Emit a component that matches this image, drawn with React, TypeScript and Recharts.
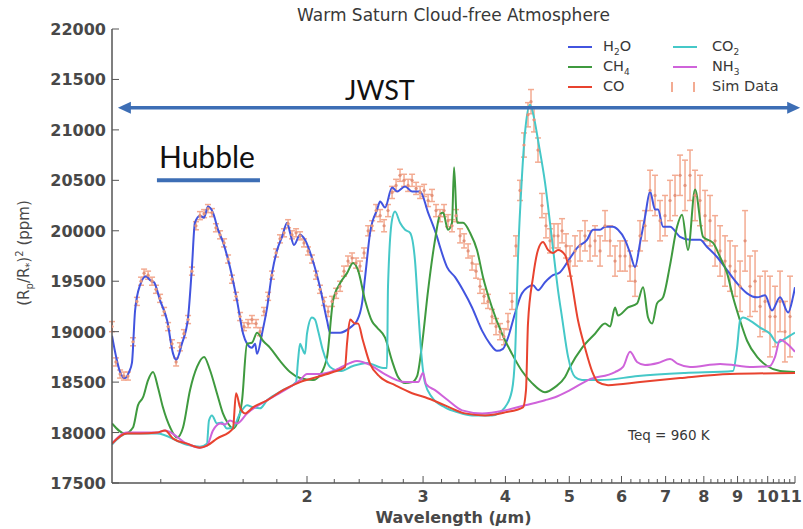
import { ComposedChart, Line, Scatter, ErrorBar, XAxis, YAxis, ReferenceLine } from 'recharts'

// wavelength (µm) / transit depth (ppm) per species
const H2O_WL = [1.012, 1.026, 1.041, 1.059, 1.074, 1.085, 1.097, 1.116, 1.14, 1.156, 1.172, 1.197, 1.227, 1.253, 1.266, 1.292, 1.32, 1.338, 1.352, 1.376, 1.396, 1.415, 1.44, 1.466, 1.491, 1.528, 1.566, 1.6, 1.622, 1.65, 1.668, 1.68, 1.709, 1.74, 1.77, 1.802, 1.833, 1.866, 1.885, 1.911, 1.952, 1.986, 2.035, 2.093, 2.145, 2.168, 2.245, 2.325, 2.382, 2.424, 2.45, 2.493, 2.555, 2.582, 2.627, 2.692, 2.739, 2.817, 2.887, 2.969, 3.053, 3.15, 3.183, 3.262, 3.355, 3.45, 3.56, 3.686, 3.79, 3.884, 3.966, 4.036, 4.136, 4.238, 4.405, 4.482, 4.593, 4.723, 4.841, 4.979, 5.155, 5.319, 5.432, 5.567, 5.665, 5.825, 5.928, 6.075, 6.182, 6.291, 6.402, 6.515, 6.63, 6.746, 6.817, 6.937, 7.109, 7.362, 7.623, 7.894, 8.091, 8.378, 8.676, 8.985, 9.304, 9.635, 9.908, 10.15, 10.44, 10.74, 10.92, 11.0]
const H2O_PPM = [18960, 18760, 18600, 18540, 18600, 18690, 19210, 19460, 19550, 19510, 19490, 19310, 19110, 18780, 18720, 18880, 19140, 19640, 20080, 20150, 20130, 20240, 20180, 20010, 19890, 19640, 19310, 18980, 18880, 18840, 18880, 18780, 18980, 19240, 19580, 19810, 19940, 20080, 19980, 19860, 19960, 19910, 19730, 19440, 19110, 18990, 18990, 19040, 19110, 19280, 19540, 19980, 20210, 20290, 20230, 20430, 20390, 20440, 20390, 20390, 20180, 19940, 19840, 19640, 19540, 19410, 19240, 19010, 18880, 18810, 18830, 18940, 19180, 19380, 19460, 19410, 19490, 19560, 19590, 19700, 19840, 19910, 20010, 20010, 20040, 20040, 20010, 19910, 19780, 19640, 19880, 20140, 20390, 20210, 20210, 20040, 20040, 19940, 19910, 19910, 19840, 19740, 19610, 19480, 19380, 19340, 19360, 19210, 19340, 19190, 19340, 19440]

const CH4_WL = [1.012, 1.059, 1.089, 1.108, 1.128, 1.148, 1.168, 1.188, 1.209, 1.24, 1.27, 1.297, 1.329, 1.362, 1.396, 1.425, 1.46, 1.491, 1.518, 1.544, 1.572, 1.594, 1.622, 1.65, 1.68, 1.715, 1.758, 1.82, 1.885, 1.952, 2.043, 2.093, 2.145, 2.191, 2.245, 2.3, 2.349, 2.39, 2.45, 2.511, 2.555, 2.627, 2.692, 2.749, 2.817, 2.887, 2.938, 2.99, 3.053, 3.128, 3.183, 3.217, 3.273, 3.319, 3.343, 3.378, 3.45, 3.535, 3.622, 3.699, 3.817, 3.952, 4.093, 4.238, 4.39, 4.593, 4.757, 4.926, 5.012, 5.227, 5.47, 5.665, 5.765, 5.866, 5.928, 6.139, 6.335, 6.47, 6.584, 6.677, 6.793, 6.937, 7.109, 7.285, 7.413, 7.57, 7.758, 7.978, 8.262, 8.466, 8.676, 8.86, 9.079, 9.304, 9.635, 9.978, 10.44, 11.0]
const CH4_PPM = [18090, 17990, 18050, 18270, 18350, 18520, 18600, 18450, 18250, 18050, 17950, 18050, 18420, 18650, 18750, 18620, 18390, 18190, 18090, 18040, 18120, 18320, 18880, 18890, 18990, 18910, 18840, 18710, 18600, 18540, 18520, 18570, 18750, 19310, 19480, 19580, 19680, 19610, 19310, 19100, 19040, 18940, 18710, 18550, 18490, 18500, 18560, 18880, 19410, 19910, 20160, 20180, 20010, 20080, 20630, 20080, 20080, 19980, 19810, 19540, 19240, 18980, 18780, 18610, 18490, 18400, 18450, 18550, 18650, 18840, 18980, 19080, 19050, 19240, 19160, 19240, 19280, 19440, 19140, 19080, 19280, 19340, 19660, 20040, 20160, 19810, 20410, 19940, 19880, 19740, 19580, 19340, 19110, 18910, 18750, 18660, 18610, 18600]

const CO_WL = [1.012, 1.066, 1.116, 1.184, 1.218, 1.253, 1.315, 1.376, 1.41, 1.46, 1.544, 1.561, 1.583, 1.611, 1.656, 1.74, 1.839, 1.952, 2.071, 2.191, 2.284, 2.3, 2.325, 2.366, 2.39, 2.432, 2.493, 2.582, 2.72, 2.887, 3.021, 3.239, 3.474, 3.725, 3.994, 4.253, 4.298, 4.328, 4.405, 4.482, 4.561, 4.641, 4.723, 4.807, 4.926, 5.012, 5.155, 5.282, 5.413, 5.528, 5.725, 6.402, 7.362, 8.767, 11.0]
const CO_PPM = [17890, 17990, 17990, 18000, 18020, 17940, 17890, 17850, 17870, 17940, 18040, 18390, 18250, 18190, 18250, 18320, 18420, 18500, 18550, 18600, 18650, 18880, 19120, 19080, 19080, 18910, 18680, 18550, 18470, 18390, 18350, 18270, 18190, 18170, 18200, 18250, 18420, 19080, 19540, 19810, 19890, 19810, 19780, 19810, 19760, 19580, 19110, 18840, 18610, 18500, 18470, 18500, 18540, 18580, 18590]

const CO2_WL = [1.012, 1.066, 1.184, 1.315, 1.376, 1.41, 1.42, 1.435, 1.46, 1.486, 1.512, 1.544, 1.583, 1.622, 1.656, 1.697, 1.74, 1.839, 1.925, 1.938, 1.952, 1.965, 1.986, 2.0, 2.035, 2.057, 2.079, 2.115, 2.168, 2.245, 2.349, 2.467, 2.609, 2.645, 2.654, 2.692, 2.72, 2.768, 2.817, 2.867, 2.917, 2.948, 2.979, 3.021, 3.095, 3.239, 3.39, 3.56, 3.817, 3.994, 4.093, 4.136, 4.18, 4.238, 4.283, 4.358, 4.436, 4.482, 4.593, 4.707, 4.807, 4.875, 4.979, 5.101, 5.227, 5.567, 6.357, 7.491, 8.86, 8.985, 9.079, 9.175, 9.401, 9.736, 10.08, 10.33, 10.62, 11.0]
const CO2_PPM = [17880, 17990, 17990, 17880, 17860, 17890, 18120, 18170, 18090, 18100, 18040, 18050, 18190, 18270, 18250, 18240, 18320, 18420, 18500, 18710, 18880, 18840, 18780, 18980, 19140, 19120, 19010, 18810, 18650, 18610, 18660, 18690, 18640, 18640, 19440, 20110, 20190, 20080, 20010, 19980, 19700, 19240, 18810, 18490, 18350, 18250, 18200, 18170, 18170, 18250, 18420, 18750, 19740, 20540, 20970, 21250, 21070, 20900, 20480, 19910, 19410, 19140, 18750, 18550, 18520, 18520, 18560, 18590, 18610, 18840, 19110, 19140, 19110, 19040, 18980, 18890, 18930, 18990]

const NH3_WL = [1.012, 1.066, 1.184, 1.218, 1.315, 1.376, 1.41, 1.44, 1.476, 1.502, 1.528, 1.566, 1.622, 1.74, 1.952, 2.0, 2.093, 2.191, 2.325, 2.382, 2.493, 2.609, 2.817, 2.948, 2.999, 3.032, 3.128, 3.273, 3.438, 3.686, 3.994, 4.283, 4.593, 4.757, 5.012, 5.338, 5.866, 6.033, 6.182, 6.335, 6.515, 6.817, 7.109, 7.31, 7.623, 8.466, 9.5, 10.08, 10.26, 10.44, 10.7, 11.0]
const NH3_PPM = [17890, 18000, 18000, 18020, 17890, 17850, 17870, 18020, 18090, 18080, 18120, 18090, 18190, 18320, 18520, 18580, 18580, 18610, 18690, 18710, 18670, 18590, 18500, 18500, 18590, 18480, 18420, 18320, 18220, 18190, 18220, 18270, 18320, 18350, 18420, 18520, 18600, 18650, 18800, 18700, 18670, 18690, 18730, 18680, 18650, 18680, 18650, 18660, 18750, 18920, 18880, 18800]

// simulated observation with 1-sigma errors
const SIM_WL = [1.012, 1.026, 1.041, 1.055, 1.07, 1.089, 1.104, 1.12, 1.132, 1.148, 1.164, 1.18, 1.197, 1.214, 1.231, 1.248, 1.266, 1.283, 1.301, 1.32, 1.338, 1.357, 1.376, 1.396, 1.415, 1.435, 1.455, 1.476, 1.497, 1.518, 1.539, 1.561, 1.583, 1.605, 1.628, 1.65, 1.674, 1.697, 1.721, 1.746, 1.77, 1.795, 1.82, 1.846, 1.872, 1.898, 1.925, 1.952, 1.979, 2.007, 2.035, 2.064, 2.093, 2.122, 2.153, 2.183, 2.214, 2.245, 2.276, 2.308, 2.341, 2.374, 2.407, 2.441, 2.476, 2.511, 2.546, 2.582, 2.618, 2.654, 2.692, 2.73, 2.768, 2.807, 2.847, 2.887, 2.928, 2.969, 3.011, 3.053, 3.095, 3.139, 3.183, 3.228, 3.273, 3.319, 3.366, 3.414, 3.462, 3.511, 3.56, 3.61, 3.66, 3.712, 3.764, 3.817, 3.871, 3.925, 3.98, 4.036, 4.093, 4.15, 4.209, 4.268, 4.328, 4.374, 4.42, 4.482, 4.545, 4.609, 4.674, 4.74, 4.807, 4.875, 4.943, 5.012, 5.101, 5.191, 5.282, 5.375, 5.47, 5.567, 5.665, 5.765, 5.866, 5.97, 6.075, 6.182, 6.291, 6.402, 6.515, 6.63, 6.746, 6.865, 6.986, 7.109, 7.234, 7.362, 7.491, 7.623, 7.758, 7.894, 8.034, 8.175, 8.32, 8.466, 8.615, 8.767, 8.922, 9.079, 9.239, 9.401, 9.567, 9.736, 9.908, 10.08, 10.26, 10.44, 10.62, 10.81]
const SIM_PPM = [19050, 18700, 18580, 18560, 18560, 18900, 19300, 19500, 19580, 19560, 19500, 19420, 19330, 19200, 19050, 18880, 18700, 18850, 18980, 19120, 19600, 20050, 20150, 20170, 20220, 20180, 20030, 19960, 19880, 19720, 19520, 19350, 19150, 19050, 19080, 19120, 19080, 19000, 19200, 19350, 19560, 19780, 19920, 19980, 20070, 19960, 19980, 19950, 19880, 19800, 19720, 19560, 19420, 19300, 19200, 19300, 19380, 19450, 19600, 19700, 19730, 19680, 19650, 19780, 20000, 20050, 20200, 20150, 20050, 20200, 20380, 20450, 20550, 20500, 20450, 20500, 20420, 20380, 20400, 20300, 20350, 20200, 20150, 20200, 20100, 20050, 20150, 19950, 19900, 19800, 19680, 19600, 19450, 19350, 19300, 19150, 19050, 19000, 18950, 19100, 19300, 19850, 20400, 20850, 21150, 21280, 21100, 20800, 20250, 20050, 19900, 19950, 19950, 20000, 19850, 19700, 19800, 19850, 19950, 19850, 19900, 19800, 20050, 19900, 19700, 19750, 19750, 19650, 19500, 19950, 20050, 20400, 20350, 20100, 20150, 20300, 20350, 20550, 20450, 20550, 20350, 20300, 20150, 20100, 19900, 19800, 19700, 19650, 19600, 19450, 19900, 19450, 19500, 19250, 19300, 19150, 19150, 19300, 19000, 19150]
const SIM_ERR = [50, 40, 40, 40, 40, 40, 40, 40, 40, 40, 40, 40, 40, 40, 40, 40, 40, 40, 40, 40, 40, 40, 40, 40, 40, 40, 40, 40, 40, 40, 40, 40, 40, 40, 40, 40, 40, 40, 40, 40, 40, 40, 40, 40, 40, 40, 40, 40, 40, 40, 40, 40, 40, 40, 50, 50, 50, 50, 50, 50, 50, 50, 50, 50, 50, 50, 60, 60, 60, 60, 60, 60, 60, 60, 60, 60, 60, 60, 60, 60, 60, 60, 60, 60, 60, 60, 60, 70, 70, 70, 70, 70, 70, 70, 70, 70, 80, 80, 80, 80, 80, 100, 100, 120, 120, 120, 120, 120, 120, 120, 120, 120, 120, 120, 120, 150, 150, 150, 150, 150, 150, 150, 150, 150, 150, 150, 150, 150, 150, 150, 150, 200, 200, 200, 200, 200, 200, 200, 250, 250, 250, 250, 250, 250, 250, 250, 250, 250, 250, 250, 300, 300, 300, 300, 300, 400, 300, 300, 300, 400, 400, 400]

const X_MAJOR = [2, 3, 4, 5, 6, 7, 8, 9, 10, 11]
const X_MINOR = [1.2, 1.4, 1.6, 1.8, 2.2, 2.4, 2.6, 2.8, 3.2, 3.4, 3.6, 3.8, 4.2, 4.4, 4.6, 4.8, 5.2, 5.4, 5.6, 5.8, 6.2, 6.4, 6.6, 6.8, 7.2, 7.4, 7.6, 7.8, 8.2, 8.4, 8.6, 8.8, 9.2, 9.4, 9.6, 9.8, 10.2, 10.4, 10.6, 10.8]
const Y_TICKS = [17500, 18000, 18500, 19000, 19500, 20000, 20500, 21000, 21500, 22000]

const JWST_RANGE = [1.033, 11.2]
const JWST_LEVEL = 21220
const HUBBLE_RANGE = [1.184, 1.697]
const HUBBLE_LEVEL = 20500

const X_DOMAIN = [1.012, 11]
const Y_DOMAIN = [17500, 22000]

const COLORS = {
  h2o: '#4254df',
  ch4: '#3f9a3f',
  co: '#e8432f',
  co2: '#45c8c8',
  nh3: '#cf63da',
  sim: '#f3ab92',
  arrow: '#3d6eb5',
  axis: '#555',
  text: '#383838',
}

const SERIES = [
  { name: 'H2O', wl: H2O_WL, ppm: H2O_PPM, color: COLORS.h2o },
  { name: 'CH4', wl: CH4_WL, ppm: CH4_PPM, color: COLORS.ch4 },
  { name: 'CO2', wl: CO2_WL, ppm: CO2_PPM, color: COLORS.co2 },
  { name: 'NH3', wl: NH3_WL, ppm: NH3_PPM, color: COLORS.nh3 },
  { name: 'CO', wl: CO_WL, ppm: CO_PPM, color: COLORS.co },
]

const toRows = (wl: number[], ppm: number[]) => wl.map((w, i) => ({ wl: w, ppm: ppm[i] }))
const simRows = SIM_WL.map((w, i) => ({ wl: w, ppm: SIM_PPM[i], err: SIM_ERR[i] }))
const xTicks = [...X_MINOR, ...X_MAJOR].sort((a, b) => a - b)

const TICK_FONT = { fontFamily: 'DejaVu Sans', fontSize: 16, fontWeight: 700, fill: '#484848' }

function BottomTick(props: any) {
  const { x, y, payload } = props
  const major = X_MAJOR.includes(payload.value)
  // last label sits on the right frame edge, keep it inside the picture
  const last = payload.value === X_MAJOR[X_MAJOR.length - 1]
  return (
    <g>
      <line x1={x} x2={x} y1={y} y2={y - (major ? 7 : 4)} stroke={COLORS.axis} />
      {major && (
        <text x={last ? x + 7 : x} y={y + 19} textAnchor={last ? 'end' : 'middle'} {...TICK_FONT}>
          {payload.value}
        </text>
      )}
    </g>
  )
}

function TopTick(props: any) {
  const { x, y, payload } = props
  const major = X_MAJOR.includes(payload.value)
  return <line x1={x} x2={x} y1={y} y2={y + (major ? 7 : 4)} stroke={COLORS.axis} />
}

function LeftTick(props: any) {
  const { x, y, payload } = props
  return (
    <g>
      <line x1={x} x2={x + 7} y1={y} y2={y} stroke={COLORS.axis} />
      <text x={x - 6} y={y + 6} textAnchor="end" {...TICK_FONT}>
        {payload.value}
      </text>
    </g>
  )
}

function RightTick(props: any) {
  const { x, y } = props
  return <line x1={x} x2={x - 7} y1={y} y2={y} stroke={COLORS.axis} />
}

function DoubleArrow(props: any) {
  const { x1, y1, x2, y2 } = props
  return (
    <g>
      <line x1={x1 + 8} y1={y1} x2={x2 - 8} y2={y2} stroke={COLORS.arrow} strokeWidth={3.5} />
      <path d={`M${x1},${y1} L${x1 + 13},${y1 - 6} L${x1 + 13},${y1 + 6} Z`} fill={COLORS.arrow} />
      <path d={`M${x2},${y2} L${x2 - 13},${y2 - 6} L${x2 - 13},${y2 + 6} Z`} fill={COLORS.arrow} />
    </g>
  )
}

function SimDot(props: any) {
  const { cx, cy } = props
  return <circle cx={cx} cy={cy} r={1.6} fill="#e3927a" />
}

const LEGEND = [
  { label: ['H', '2', 'O'], color: COLORS.h2o, col: 0, row: 0 },
  { label: ['CH', '4', ''], color: COLORS.ch4, col: 0, row: 1 },
  { label: ['CO', '', ''], color: COLORS.co, col: 0, row: 2 },
  { label: ['CO', '2', ''], color: COLORS.co2, col: 1, row: 0 },
  { label: ['NH', '3', ''], color: COLORS.nh3, col: 1, row: 1 },
]

export default function App() {
  const abs = (left: number, top: number, extra: any = {}) => ({
    position: 'absolute' as const,
    left,
    top,
    whiteSpace: 'nowrap' as const,
    lineHeight: 1,
    color: COLORS.text,
    fontFamily: 'DejaVu Sans',
    ...extra,
  })

  return (
    <div style={{ position: 'absolute', left: 0, top: 0, width: 803, height: 529, background: '#fff', overflow: 'hidden' }}>
      <ComposedChart width={803} height={529} margin={{ top: 29, right: 8, bottom: 0, left: 0 }}>
        <XAxis
          dataKey="wl"
          type="number"
          scale="log"
          domain={X_DOMAIN}
          allowDataOverflow
          ticks={xTicks}
          interval={0}
          height={46}
          tickSize={0}
          tickMargin={0}
          tickLine={false}
          tick={<BottomTick />}
          axisLine={{ stroke: COLORS.axis, strokeWidth: 1.5 }}
        />
        <XAxis
          xAxisId="top"
          orientation="top"
          dataKey="wl"
          type="number"
          scale="log"
          domain={X_DOMAIN}
          allowDataOverflow
          ticks={xTicks}
          interval={0}
          height={0}
          tickSize={0}
          tickMargin={0}
          tickLine={false}
          tick={<TopTick />}
          axisLine={{ stroke: COLORS.axis, strokeWidth: 1.5 }}
        />
        <YAxis
          dataKey="ppm"
          type="number"
          domain={Y_DOMAIN}
          allowDataOverflow
          ticks={Y_TICKS}
          interval={0}
          width={112}
          tickSize={0}
          tickMargin={0}
          tickLine={false}
          tick={<LeftTick />}
          axisLine={{ stroke: COLORS.axis, strokeWidth: 1.5 }}
        />
        <YAxis
          yAxisId="right"
          orientation="right"
          type="number"
          domain={Y_DOMAIN}
          allowDataOverflow
          ticks={Y_TICKS}
          interval={0}
          width={0}
          tickSize={0}
          tickMargin={0}
          tickLine={false}
          tick={<RightTick />}
          axisLine={{ stroke: COLORS.axis, strokeWidth: 1.5 }}
        />
        <Scatter data={simRows} dataKey="ppm" shape={<SimDot />} isAnimationActive={false}>
          <ErrorBar dataKey="err" direction="y" width={3} stroke={COLORS.sim} strokeWidth={1.5} isAnimationActive={false} />
        </Scatter>
        {SERIES.map((s) => (
          <Line
            key={s.name}
            data={toRows(s.wl, s.ppm)}
            dataKey="ppm"
            type="monotone"
            stroke={s.color}
            strokeWidth={2}
            dot={false}
            activeDot={false}
            isAnimationActive={false}
          />
        ))}
        <ReferenceLine
          segment={[
            { x: JWST_RANGE[0], y: JWST_LEVEL },
            { x: JWST_RANGE[1], y: JWST_LEVEL },
          ]}
          ifOverflow="visible"
          shape={<DoubleArrow />}
        />
        <ReferenceLine
          segment={[
            { x: HUBBLE_RANGE[0], y: HUBBLE_LEVEL },
            { x: HUBBLE_RANGE[1], y: HUBBLE_LEVEL },
          ]}
          ifOverflow="visible"
          stroke={COLORS.arrow}
          strokeWidth={4}
        />
      </ComposedChart>

      <div style={abs(112, 7, { width: 683, textAlign: 'center', fontSize: 17 })}>Warm Saturn Cloud-free Atmosphere</div>
      <div style={abs(112, 510, { width: 683, textAlign: 'center', fontSize: 16, fontWeight: 700, color: '#484848' })}>
        Wavelength (<i>μ</i>m)
      </div>
      <div
        style={abs(25, 253, {
          fontSize: 15,
          color: '#484848',
          transform: 'translate(-50%, -50%) rotate(-90deg)',
        })}
      >
        (R<sub style={{ fontSize: 10 }}>p</sub>/R<sub style={{ fontSize: 10 }}>*</sub>)<sup style={{ fontSize: 10 }}>2</sup> (ppm)
      </div>

      <div style={abs(345, 76, { fontFamily: 'Lato', fontSize: 27, color: '#111' })}>JWST</div>
      <div style={abs(159, 141, { fontFamily: 'Lato', fontSize: 30, color: '#111' })}>Hubble</div>
      <div style={abs(628, 429, { fontSize: 13.5 })}>Teq = 960 K</div>

      {LEGEND.map((l) => {
        const lx = l.col === 0 ? 568 : 673
        const tx = l.col === 0 ? 603 : 712
        const cy = 47 + l.row * 20
        return (
          <div key={l.label.join('')}>
            <div style={{ position: 'absolute', left: lx, top: cy - 1, width: 24, height: 2, background: l.color }} />
            <div style={abs(tx, cy - 8, { fontSize: 14.5 })}>
              {l.label[0]}
              {l.label[1] && <sub style={{ fontSize: 9 }}>{l.label[1]}</sub>}
              {l.label[2]}
            </div>
          </div>
        )
      })}
      {[672, 694].map((x) => (
        <div key={x} style={{ position: 'absolute', left: x - 1, top: 82, width: 2, height: 10, background: COLORS.sim }} />
      ))}
      <div style={abs(712, 79, { fontSize: 14.5 })}>Sim Data</div>
    </div>
  )
}
